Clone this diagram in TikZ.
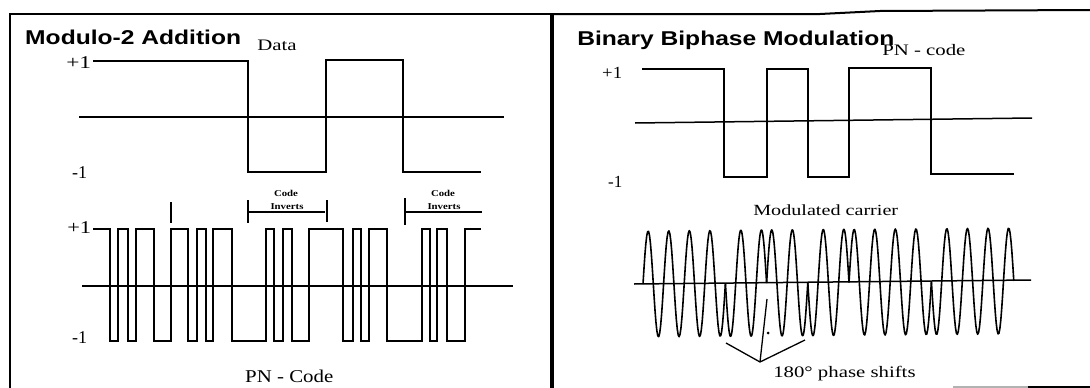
\documentclass[tikz,border=0pt]{standalone}
\usepackage{fontspec}
\setmainfont{Liberation Serif}
\setsansfont{Liberation Sans}
\begin{document}
\begin{tikzpicture}[x=1pt,y=-1pt,
  wave/.style={line width=1.6pt, line join=miter},
  axisline/.style={line width=1.5pt},
  frame/.style={line width=2pt},
  ttl/.style={inner sep=0, anchor=base west, font=\sffamily\bfseries\fontsize{20}{20}\selectfont, xscale=1.23},
  lbl/.style={inner sep=0, anchor=base west, font=\fontsize{16}{16}\selectfont, xscale=1.3},
  lev/.style={inner sep=0, anchor=base west, font=\fontsize{18}{18}\selectfont},
  small/.style={inner sep=0, anchor=base, font=\bfseries\fontsize{9}{9}\selectfont, xscale=1.2}]
\useasboundingbox (0,0) rectangle (1090,388);
\fill[white] (0,0) rectangle (1090,388);
% frames
\draw[frame] (10,388) -- (10,14) -- (552,14);
\draw[frame] (552,14) -- (820,14) -- (880,11) -- (1090,10);
\draw[line width=3.5pt] (552,13) -- (552,388);
\draw[gray!60, line width=1.2pt] (953,387) -- (1028,387);
\draw[line width=1.5pt] (1028,387) -- (1090,387);
% titles
\node[ttl] (t1) at (25,44) {Modulo-2 Addition};
\node[ttl] (t2) at (577,45) {Binary Biphase Modulation};
% left: data
\node[lbl] (data) at (257,50) {Data};
\node[lev, xscale=1.3] (p1a) at (66,68) {+1};
\node[lev] (m1a) at (72,178) {-1};
\draw[axisline] (79,117) -- (504,117);
\draw[wave] (93,61) -| (248,172) -| (326,60) -| (403,172) -- (481,172);
% left: code inverts markers
\draw[axisline] (171,202) -- (171,223);
\draw[axisline] (248,200) -- (248,223);
\draw[axisline] (327,200) -- (327,222);
\draw[axisline] (405,198) -- (405,225);
\draw[line width=1.2pt] (248,212) -- (325,212);
\draw[line width=1.2pt] (405,212) -- (482,212);
\node[small] (c1) at (286,196) {Code};
\node[small] (i1) at (287,209) {Inverts};
\node[small] (c2) at (443,196) {Code};
\node[small] (i2) at (444,209) {Inverts};
% left: PN code
\node[lev, xscale=1.25] (p1b) at (67,233) {+1};
\node[lev] (m1b) at (72,343) {-1};
\draw[axisline] (82,286) -- (513,286);
\draw[wave] (93,229) -| (110,341) -| (118,229) -| (128,341) -| (136,229) -| (154,341)
  -| (171,229) -| (188,341) -| (197,229) -| (206,341) -| (213,229) -| (232,341)
  -| (266,229) -| (274,341) -| (283,229) -| (292,341) -| (309,229) -| (343,341)
  -| (353,229) -| (361,341) -| (369,229) -| (387,341) -| (422,229) -| (430,341)
  -| (437,229) -| (447,341) -| (465,229) -- (481,229);
\node[lev, font=\fontsize{18}{18}\selectfont, xscale=1.16] (pn) at (245,382) {PN - Code};
% right: PN code
\node[lbl] (pnc) at (882,55) {PN - code};
\node[lev, font=\fontsize{17}{17}\selectfont, xscale=1.1] (p1c) at (602,78) {+1};
\node[lev, font=\fontsize{17}{17}\selectfont] (m1c) at (608,187) {-1};
\draw[axisline] (635,123) -- (1032,118);
\draw[wave] (642,69) -| (724,177) -| (767,69) -| (808,177) -| (849,68) -| (931,174) -- (1014,174);
% right: modulated carrier
\node[lbl, font=\fontsize{15.5}{15.5}\selectfont] (mc) at (753,215) {Modulated carrier};
\draw[axisline] (634,284) -- (1031,280);
\foreach \a/\b/\s in {643/725.4/1, 725.4/766.6/-1, 766.6/807.8/1, 807.8/849/-1, 849/931.4/1, 931.4/1013.8/-1}{
  \draw[line width=1.6pt, line join=round] plot[domain=\a:\b, samples=90]
    (\x, {284-0.00809*(\x-643) - 53*\s*sin(17.4757*(\x-643))});
}
% phase shift pointer
\coordinate (apex) at (760,362);
\coordinate (ps1) at (726,343);
\coordinate (ps2) at (767,299);
\coordinate (ps3) at (805,340);
\draw[line width=1.3pt] (ps1) -- (apex) -- (ps3);
\draw[line width=1.3pt] (apex) -- (ps2);
\fill (768,333) circle (1.5);
\node[lbl] (phs) at (773,377) {180° phase shifts};
\end{tikzpicture}
\end{document}
